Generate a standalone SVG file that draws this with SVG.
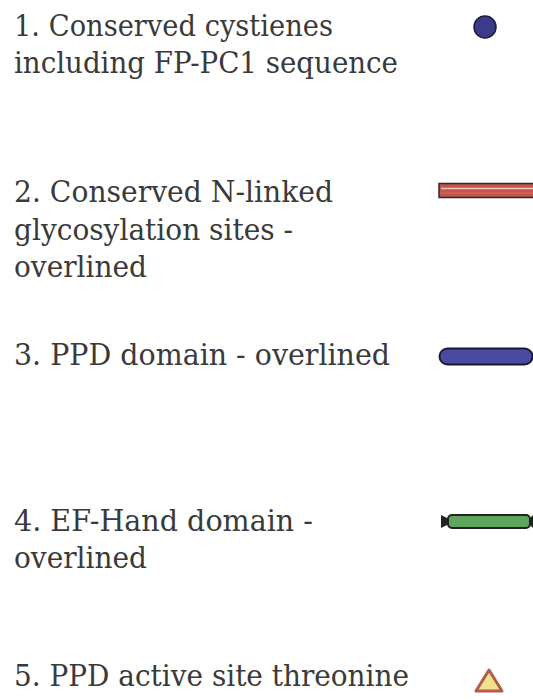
<svg xmlns="http://www.w3.org/2000/svg" width="533" height="700" viewBox="0 0 533 700">
<style>
text{font-family:"DejaVu Serif","Liberation Serif",serif;font-size:29px;fill:#3a3a3a}
</style>
<rect width="533" height="700" fill="#fff"/>
<g id="item1">
<text x="14" y="36" textLength="319" lengthAdjust="spacingAndGlyphs">1. Conserved cystienes</text>
<text x="14" y="73" textLength="384" lengthAdjust="spacingAndGlyphs">including FP-PC1 sequence</text>
<circle cx="485" cy="27" r="11" fill="#3b3b8c" stroke="#1c1c3a" stroke-width="1.5"/>
</g>
<g id="item2">
<text x="14" y="202" textLength="319" lengthAdjust="spacingAndGlyphs">2. Conserved N-linked</text>
<text x="14" y="240" textLength="279" lengthAdjust="spacingAndGlyphs">glycosylation sites -</text>
<text x="14" y="277" textLength="133" lengthAdjust="spacingAndGlyphs">overlined</text>
<rect x="439" y="183.5" width="95" height="14" fill="#c2554d" stroke="#3a2424" stroke-width="1.5"/>
<line x1="441" y1="188.5" x2="533" y2="188.5" stroke="#f0c8c0" stroke-width="1.5"/>
<line x1="441" y1="193" x2="533" y2="193" stroke="#d86a5e" stroke-width="1"/>
</g>
<g id="item3">
<text x="14" y="365" textLength="376" lengthAdjust="spacingAndGlyphs">3. PPD domain - overlined</text>
<rect x="439.5" y="348.5" width="93" height="16" rx="8" fill="#4a4aa2" stroke="#1a1a30" stroke-width="2"/>
</g>
<g id="item4">
<text x="14" y="531" textLength="299" lengthAdjust="spacingAndGlyphs">4. EF-Hand domain -</text>
<text x="14" y="568" textLength="133" lengthAdjust="spacingAndGlyphs">overlined</text>
<rect x="448" y="515" width="82" height="13" rx="4" fill="#5ea55e" stroke="#222" stroke-width="2"/>
<polygon points="441,515 449,519 449,524 441,528" fill="#222"/>
<polygon points="533,515 529,519 529,524 533,528" fill="#222"/>
</g>
<g id="item5">
<text x="14" y="686" textLength="395" lengthAdjust="spacingAndGlyphs">5. PPD active site threonine</text>
<polygon points="489,670 476,691 502,691" fill="#f2e38a" stroke="#b35c4c" stroke-width="3" stroke-linejoin="round"/>
</g>
</svg>
